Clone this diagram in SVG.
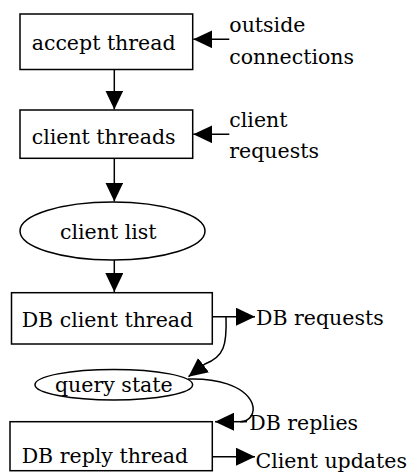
<svg xmlns="http://www.w3.org/2000/svg" width="411" height="472" viewBox="0 0 411 472">
<style>
.t{font-family:'DejaVu Serif',serif;font-size:20.5px;fill:#000}
.n{fill:#fff;stroke:#000;stroke-width:1.5}
.e{fill:none;stroke:#000;stroke-width:1.5}
.a{marker-end:url(#ah)}
</style>
<defs>
<marker id="ah" markerUnits="userSpaceOnUse" markerWidth="20" markerHeight="18" refX="19" refY="9" orient="auto" viewBox="0 0 20 18">
<path d="M0,0 L19,9 L0,18 z" fill="#000"/>
</marker>
</defs>
<rect width="411" height="472" fill="#fff"/>
<g id="connectors">
<path class="e a" d="M114.3,69.5 L114.3,109.5"/>
<path class="e a" d="M114.3,158.3 L114.3,201.5"/>
<path class="e a" d="M114.3,260 L114.3,292"/>
<path class="e a" d="M229.3,39.3 L193.3,39.3"/>
<path class="e a" d="M229.3,134.3 L193.3,134.3"/>
<path class="e a" d="M212.3,316.7 L255,316.7"/>
<path class="e a" d="M226,316.7 C227,345 224,357 205,364 L188.5,376.7"/>
<path class="e" d="M188,379 C215,378 244,385 252,403 C256,414 249,421.7 240,421.7"/>
<path class="e a" d="M247,421.7 L215,421.7"/>
<path class="e a" d="M212.3,456.7 L255,456.7"/>
</g>
<g id="accept-thread">
<rect class="n" x="20" y="14" width="172.7" height="55.5"/>
<text class="t" x="31.7" y="50">accept thread</text>
</g>
<g id="client-threads">
<rect class="n" x="20" y="110" width="172.7" height="48.3"/>
<text class="t" x="31.7" y="144.3">client threads</text>
</g>
<g id="client-list">
<ellipse class="n" cx="112.5" cy="231" rx="92.5" ry="29"/>
<text class="t" x="60" y="239.3">client list</text>
</g>
<g id="db-client-thread">
<rect class="n" x="11.5" y="292.7" width="200.8" height="51.3"/>
<text class="t" x="21.7" y="327">DB client thread</text>
</g>
<g id="query-state">
<ellipse class="n" cx="113.8" cy="384.7" rx="78.8" ry="15.3"/>
<text class="t" x="55" y="391.7">query state</text>
</g>
<g id="db-reply-thread">
<rect class="n" x="10" y="421.7" width="202.3" height="49"/>
<text class="t" x="21.7" y="463.3">DB reply thread</text>
</g>
<g id="outside-connections">
<text class="t" x="229.3" y="31.7">outside</text>
<text class="t" x="229.3" y="64.3">connections</text>
</g>
<g id="client-requests">
<text class="t" x="229.3" y="126.5">client</text>
<text class="t" x="229.3" y="158">requests</text>
</g>
<g id="db-requests"><text class="t" x="256" y="325">DB requests</text></g>
<g id="db-replies"><text class="t" x="249.3" y="430">DB replies</text></g>
<g id="client-updates"><text class="t" x="255.5" y="468.3">Client updates</text></g>
</svg>
